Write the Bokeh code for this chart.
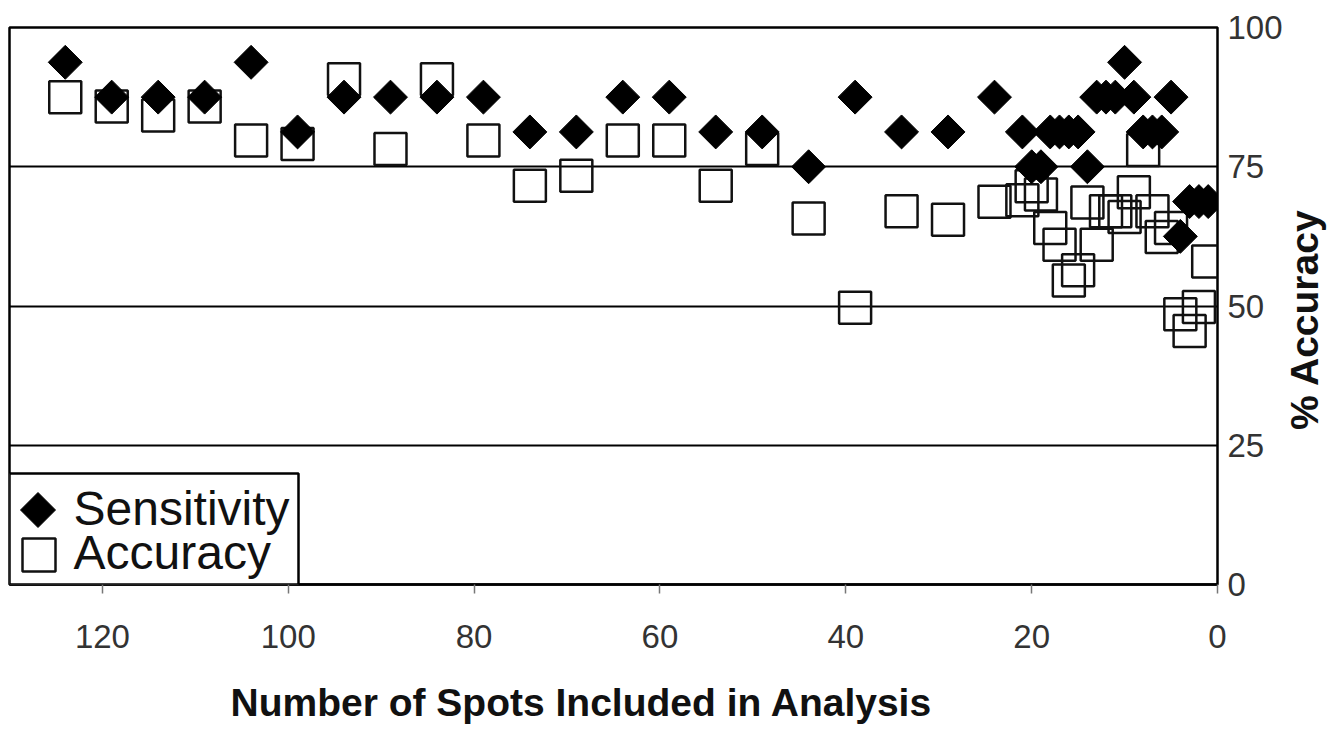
import math
from bokeh.plotting import figure
from bokeh.layouts import row
from bokeh.models import (Range1d, FixedTicker, Title, BoxAnnotation, Label,
                          PolyAnnotation, ColumnDataSource)
from bokeh.embed import file_html
from bokeh.resources import INLINE

# ---- data ----
spots = [124, 119, 114, 109, 104, 99, 94, 89, 84, 79, 74, 69, 64, 59, 54, 49, 44, 39, 34, 29, 24,
         21, 20, 19, 18, 17, 16, 15, 14, 13, 12, 11, 10, 9, 8, 7, 6, 5, 4, 3, 2, 1]
sensitivity = [93.75, 87.5, 87.5, 87.5, 93.75, 81.25, 87.5, 87.5, 87.5, 87.5, 81.25, 81.25, 87.5, 87.5,
               81.25, 81.25, 75, 87.5, 81.25, 81.25, 87.5,
               81.25, 75, 75, 81.25, 81.25, 81.25, 81.25, 75, 87.5, 87.5, 87.5, 93.75, 87.5,
               81.25, 81.25, 81.25, 87.5, 62.5, 68.75, 68.75, 68.75]
accuracy = [87.5, 85.8, 84.2, 85.8, 79.7, 79.1, 90.7, 78.2, 90.7, 79.7, 71.6, 73.4, 79.7, 79.7,
            71.6, 78.2, 65.7, 49.7, 67.0, 65.5, 68.7,
            69.0, 71.5, 70.0, 64.0, 61.0, 54.6, 56.4, 68.6, 61.0, 67.0, 67.0, 66.0, 70.4,
            78.0, 67.0, 62.4, 64.0, 48.5, 45.5, 49.8, 58.0]
x_ticks = [0, 20, 40, 60, 80, 100, 120]
y_ticks = [0, 25, 50, 75, 100]
legend_labels = ["Sensitivity", "Accuracy"]
x_title = "Number of Spots Included in Analysis"
y_title = "% Accuracy"

src = ColumnDataSource(dict(x=spots, sens=sensitivity, acc=accuracy))

p = figure(frame_width=1208, frame_height=557,
           x_range=Range1d(130, 0), y_range=Range1d(0, 100),
           y_axis_location="right",
           output_backend="svg", toolbar_location=None,
           min_border_left=9, min_border_top=27, min_border_right=70, min_border_bottom=146,
           background_fill_color="white", border_fill_color="white")

p.outline_line_color = "black"
p.outline_line_width = 2.5

p.xgrid.visible = False
p.ygrid.ticker = FixedTicker(ticks=y_ticks)
p.ygrid.grid_line_color = "black"
p.ygrid.grid_line_width = 2

# x axis
xa = p.xaxis[0]
xa.ticker = FixedTicker(ticks=x_ticks)
xa.axis_line_color = "black"
xa.axis_line_width = 2.5
xa.major_tick_out = 9
xa.major_tick_in = 0
xa.major_tick_line_color = "#777777"
xa.major_tick_line_width = 1.5
xa.minor_tick_line_color = None
xa.major_label_text_font = "Liberation Sans"
xa.major_label_text_font_size = "33px"
xa.major_label_text_color = "#333333"
xa.major_label_standoff = 31

# y axis (right)
ya = p.yaxis[0]
ya.ticker = FixedTicker(ticks=y_ticks)
ya.axis_line_color = None
ya.major_tick_line_color = None
ya.major_tick_out = 0
ya.major_tick_in = 0
ya.minor_tick_line_color = None
ya.major_label_text_font = "Liberation Sans"
ya.major_label_text_font_size = "33px"
ya.major_label_text_color = "#333333"
ya.major_label_standoff = 10

# data
p.scatter("x", "acc", source=src, marker="square", size=32,
          fill_color=None, line_color="#111111", line_width=2.5)
p.scatter("x", "sens", source=src, marker="square", angle=math.pi / 4, size=24,
          fill_color="black", line_color="black", line_width=1)

# x title
t = Title(text=x_title, align="left", offset=221,
          text_font="Liberation Sans", text_font_size="39px", text_font_style="bold",
          text_color="#111111", standoff=56)
p.add_layout(t, "below")

# legend (drawn in screen units, frame-relative)
box = BoxAnnotation(left=0, right=289, bottom=0, top=111,
                    left_units="screen", right_units="screen",
                    bottom_units="screen", top_units="screen",
                    fill_color="white", fill_alpha=1.0,
                    line_color="black", line_width=2.5, line_alpha=1.0)
p.add_layout(box)
dia = PolyAnnotation(xs=[11, 28.5, 46, 28.5], ys=[74.5, 92, 74.5, 57],
                     xs_units="screen", ys_units="screen",
                     fill_color="black", fill_alpha=1.0, line_color="black", line_alpha=1.0, line_width=1)
p.add_layout(dia)
sq = PolyAnnotation(xs=[13, 46, 46, 13], ys=[13, 13, 46, 46],
                    xs_units="screen", ys_units="screen",
                    fill_color="white", fill_alpha=1.0, line_color="#111111", line_alpha=1.0, line_width=2.5)
p.add_layout(sq)
for lab, yb in zip(legend_labels, [76, 32]):
    p.add_layout(Label(x=64, y=yb, x_units="screen", y_units="screen", text=lab,
                       text_font="Liberation Sans", text_font_size="48px",
                       text_color="#111111", text_baseline="alphabetic"))

# right-hand axis title panel (reads bottom to top)
p2 = figure(width=50, height=730, x_range=Range1d(0, 1), y_range=Range1d(0, 1),
            x_axis_location=None, y_axis_location=None,
            output_backend="svg", toolbar_location=None, min_border=0,
            outline_line_color=None, background_fill_color="white", border_fill_color="white")
p2.grid.visible = False
p2.add_layout(Label(x=17, y=244, x_units="screen", y_units="screen", text=y_title,
                    angle=90, angle_units="deg", text_align="center", text_baseline="middle",
                    text_font="Liberation Sans", text_font_size="39px", text_font_style="bold",
                    text_color="#111111"))

layout = row(p, p2, spacing=0)
open("out.html", "w").write(file_html(layout, INLINE))
